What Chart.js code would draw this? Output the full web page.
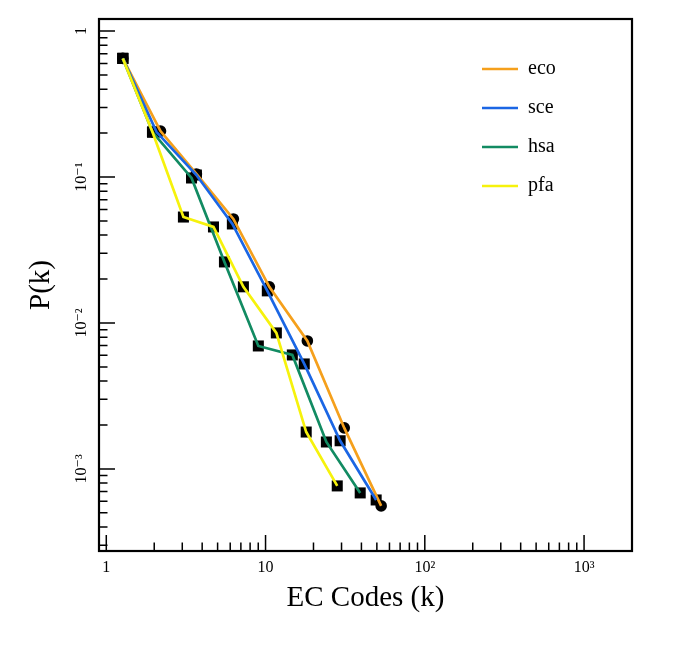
<!DOCTYPE html>
<html>
<head>
<meta charset="utf-8">
<script src="https://cdn.jsdelivr.net/npm/chart.js@4.4.1/dist/chart.umd.min.js"></script>
<style>
  html, body { margin: 0; padding: 0; background: #fff; }
</style>
</head>
<body>
<canvas id="chart" width="685" height="653"></canvas>
<script>
// P(k) of EC codes per organism
const ecoK = [1.27, 2.19, 3.68, 6.28, 10.56, 18.3, 31.2, 53.2];
const ecoP = [0.65, 0.2066, 0.105, 0.0516, 0.0177, 0.00753, 0.00191, 0.000558];
const sceK = [1.27, 2.07, 3.68, 6.19, 10.26, 17.5, 29.4, 49.5];
const sceP = [0.65, 0.2033, 0.1032, 0.0477, 0.0166, 0.00524, 0.00156, 0.000613];
const hsaK = [1.27, 1.95, 3.43, 5.52, 9.01, 14.73, 24.1, 39.3];
const hsaP = [0.65, 0.2033, 0.0985, 0.0262, 0.00696, 0.00604, 0.00153, 0.000685];
const pfaK = [1.27, 1.95, 3.05, 4.71, 7.26, 11.69, 18.0, 28.2];
const pfaP = [0.65, 0.2033, 0.0532, 0.0455, 0.0177, 0.00855, 0.00179, 0.000765];

const X_TICK_VALUES = [1, 10, 100, 1000];
const X_TICK_LABELS = ['1', '10', '10²', '10³'];
const Y_TICK_VALUES = [1, 0.1, 0.01, 0.001];
const Y_TICK_LABELS = ['1', '10⁻¹', '10⁻²', '10⁻³'];

const FONT = "'Liberation Serif', 'DejaVu Serif', serif";

// name, k, P, line colour, marker
const SERIES = [
  ['eco', ecoK, ecoP, '#f5a01c', 'circle'],
  ['sce', sceK, sceP, '#1b66e4', 'rect'],
  ['hsa', hsaK, hsaP, '#128b62', 'rect'],
  ['pfa', pfaK, pfaP, '#f6f20c', 'rect']
];

function points(k, p) {
  return k.map((v, i) => ({ x: v, y: p[i] }));
}

// 1..9 x 10^e inside [min, max], powers of ten flagged major
function logTicks(min, max) {
  const out = [];
  for (let e = Math.floor(Math.log10(min)); e <= Math.ceil(Math.log10(max)); e++) {
    for (let m = 1; m < 10; m++) {
      const v = m * Math.pow(10, e);
      if (v >= min && v <= max) out.push({ value: v, major: m === 1 });
    }
  }
  return out;
}

function tickLabel(values, labels) {
  return (v) => {
    const i = values.findIndex(t => Math.abs(Math.log10(v) - Math.log10(t)) < 1e-6);
    return i >= 0 ? labels[i] : '';
  };
}

const lineSets = SERIES.map(([name, k, p, color], i) => ({
  label: name,
  data: points(k, p),
  borderColor: color,
  backgroundColor: color,
  borderWidth: 2.7,
  pointRadius: 0,
  tension: 0,
  fill: false,
  order: 4 - i
}));

const markerSets = SERIES.map(([name, k, p, color, marker]) => ({
  label: name + ' markers',
  data: points(k, p),
  showLine: false,
  pointStyle: marker,
  pointRadius: marker === 'circle' ? 5.8 : 7.8,
  pointBackgroundColor: '#000',
  pointBorderWidth: 0,
  order: 10
}));

// box with inward ticks, and the legend moved into the upper right
const framePlugin = {
  id: 'frame',
  afterLayout(chart) {
    const lg = chart.legend;
    if (!lg) return;
    lg.left = 463;
    lg.top = 40;
    lg.right = chart.width;
    lg.bottom = 400;
  },
  afterDraw(chart) {
    const { ctx, chartArea: a, scales } = chart;
    ctx.save();
    ctx.strokeStyle = '#000';
    ctx.lineWidth = 1.5;
    ctx.beginPath();
    scales.x.ticks.forEach(t => {
      const px = scales.x.getPixelForValue(t.value);
      const len = t.major ? 16 : 8.5;
      ctx.moveTo(px, a.bottom);
      ctx.lineTo(px, a.bottom - len);
    });
    scales.y.ticks.forEach(t => {
      const py = scales.y.getPixelForValue(t.value);
      const len = t.major ? 16 : 8.5;
      ctx.moveTo(a.left, py);
      ctx.lineTo(a.left + len, py);
    });
    ctx.stroke();
    ctx.lineWidth = 2.2;
    ctx.strokeRect(a.left, a.top, a.right - a.left, a.bottom - a.top);
    ctx.restore();
  }
};

new Chart(document.getElementById('chart'), {
  type: 'line',
  data: { datasets: [...lineSets, ...markerSets] },
  plugins: [framePlugin],
  options: {
    responsive: false,
    animation: false,
    layout: { padding: { left: 10, right: 53, top: 19, bottom: 20 } },
    plugins: {
      tooltip: { enabled: false },
      legend: {
        position: 'chartArea',
        align: 'start',
        labels: {
          filter: item => item.datasetIndex < SERIES.length,
          sort: (a, b) => a.datasetIndex - b.datasetIndex,
          usePointStyle: true,
          pointStyle: 'line',
          pointStyleWidth: 36,
          padding: 19,
          color: '#000',
          font: { family: FONT, size: 20 }
        }
      }
    },
    scales: {
      x: {
        type: 'logarithmic',
        min: 0.9,
        max: 2000,
        afterBuildTicks: s => { s.ticks = logTicks(s.min, s.max); },
        afterFit: s => { s.height = 82; },
        grid: { display: false, drawTicks: false },
        border: { display: false },
        ticks: {
          autoSkip: false,
          maxRotation: 0,
          padding: 7,
          color: '#000',
          font: { family: FONT, size: 16 },
          callback: tickLabel(X_TICK_VALUES, X_TICK_LABELS)
        },
        title: {
          display: true,
          text: 'EC Codes (k)',
          color: '#000',
          font: { family: FONT, size: 29 },
          padding: { top: 0, bottom: 17 }
        }
      },
      y: {
        type: 'logarithmic',
        min: 2.74e-4,
        max: 1.21,
        afterBuildTicks: s => { s.ticks = logTicks(s.min, s.max); },
        afterFit: s => { s.width = 89; },
        grid: { display: false, drawTicks: false },
        border: { display: false },
        ticks: {
          autoSkip: false,
          minRotation: 90,
          maxRotation: 90,
          crossAlign: 'center',
          padding: 3,
          color: '#000',
          font: { family: FONT, size: 16 },
          callback: tickLabel(Y_TICK_VALUES, Y_TICK_LABELS)
        },
        title: {
          display: true,
          text: 'P(k)',
          color: '#000',
          font: { family: FONT, size: 29 },
          padding: { top: 14, bottom: 0 }
        }
      }
    }
  }
});
</script>
</body>
</html>
